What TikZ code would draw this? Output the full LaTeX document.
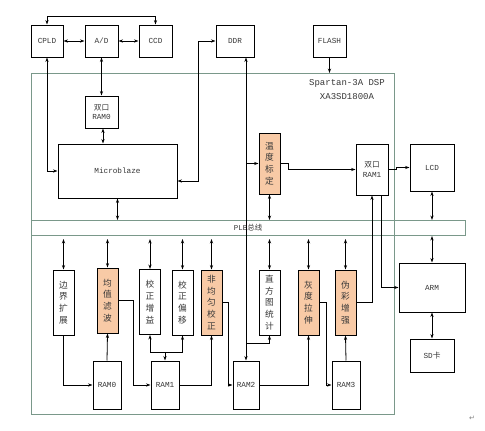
\documentclass[tikz,border=0pt]{standalone}
\usepackage{fontspec}
\setmainfont{Liberation Mono}
\newfontfamily\cjk{Noto Sans CJK SC}
\newfontfamily\dejavu{DejaVu Sans}
\usetikzlibrary{arrows.meta}
\definecolor{framegreen}{RGB}{122,152,138}
\definecolor{peach}{RGB}{248,202,166}
\definecolor{txtgray}{RGB}{55,55,55}

\begin{document}
\begin{tikzpicture}[x=1pt,y=-1pt,
	>={Stealth[length=4.5pt,width=3.2pt]},
	blk/.style={draw=black,line width=1pt,fill=white,inner sep=0pt,text=txtgray,
		font=\fontsize{7.7}{9.5}\selectfont,align=center},
	col/.style={blk,minimum width=21pt,minimum height=65pt,font=\cjk\fontsize{8.7}{11.7}\selectfont},
	ram/.style={blk,minimum width=28pt,minimum height=48pt},
	hot/.style={fill=peach},
	link/.style={line width=0.8pt}]

	\useasboundingbox (0,0) rectangle (485,431);

	% chip frame and bus
	\node[draw=framegreen,line width=1.2pt,minimum width=363pt,minimum height=341pt,
		inner sep=0pt,anchor=north west] (fpga) at (31,73) {};
	\node[align=center,text=txtgray,font=\fontsize{9}{14}\selectfont] (title) at (347,90)
		{Spartan-3A DSP\\XA3SD1800A};
	\node[draw=framegreen,line width=1pt,minimum width=434pt,minimum height=15pt,
		inner sep=0pt,anchor=north west] (bus) at (31,220) {};
	\node[text=txtgray,font=\fontsize{7.5}{9}\selectfont] (buslbl) at (248,227.5) {PLB{\cjk 总线}};

	% outside parts
	\node[blk,minimum width=32pt,minimum height=32pt] (cpld) at (47,41) {CPLD};
	\node[blk,minimum width=33pt,minimum height=32pt] (ad) at (101.5,41) {A/D};
	\node[blk,minimum width=33pt,minimum height=32pt] (ccd) at (155.5,41) {CCD};
	\node[blk,minimum width=38pt,minimum height=32pt] (ddr) at (235,41) {DDR};
	\node[blk,minimum width=33pt,minimum height=32pt] (flash) at (329.5,41) {FLASH};
	\node[blk,minimum width=44pt,minimum height=47pt] (lcd) at (432,167.5) {LCD};
	\node[blk,minimum width=66pt,minimum height=49pt] (arm) at (432,287.5) {ARM};
	\node[blk,minimum width=44pt,minimum height=33pt] (sd) at (432,355.5) {SD{\cjk 卡}};

	% upper half of the chip
	\node[blk,minimum width=33pt,minimum height=32pt] (dram0) at (101.5,112) {{\cjk 双口}\\RAM0};
	\node[blk,minimum width=119pt,minimum height=54pt] (mb) at (117.5,171) {Microblaze};
	\node[col,hot,minimum height=61pt] (wdbd) at (269.5,163.5) {温\\度\\标\\定};
	\node[blk,minimum width=32pt,minimum height=51pt] (dram1) at (372,169.5) {{\cjk 双口}\\RAM1};

	% lower half of the chip
	\node[col] (bjkz) at (63.5,302.5) {边\\界\\扩\\展};
	\node[col,hot] (jzlb) at (107.5,300.5) {均\\值\\滤\\波};
	\node[col] (jzzy) at (150,302) {校\\正\\增\\益};
	\node[col] (jzpy) at (182.5,302.5) {校\\正\\偏\\移};
	\node[col,hot] (fjy) at (211.5,302.5) {非\\均\\匀\\校\\正};
	\node[col] (zft) at (269.5,302.5) {直\\方\\图\\统\\计};
	\node[col,hot] (hdls) at (308.5,302.5) {灰\\度\\拉\\伸};
	\node[col,hot] (wczq) at (345.5,302.5) {伪\\彩\\增\\强};
	\node[ram] (ram0) at (107,385) {RAM0};
	\node[ram] (ram1) at (165,385) {RAM1};
	\node[ram,minimum width=26pt] (ram2) at (246,385) {RAM2};
	\node[ram] (ram3) at (346,385) {RAM3};

	% connectors
	\draw[link,<->] (cpld.north) -- (cpld.north |- 0,16) -| (ccd.north);
	\draw[link,<->] (cpld) -- (ad);
	\draw[link,<->] (ad) -- (ccd);
	\draw[link,<->] (cpld.south) |- (mb.west);
	\draw[link,<->] (ad.south) -- (dram0.north);
	\draw[link,<->] ([xshift=1.5pt]dram0.south) -- ([xshift=1.5pt]dram0.south |- mb.north);
	\draw[link,<->] (mb.south) -- (mb.south |- bus.north);
	\draw[link,<->] ([yshift=-10pt]mb.east) -- ++(21,0) |- (ddr.west);
	\draw[link,->] (flash.south) -- (flash.south |- fpga.north);
	\draw[link,<->] (ram2.north |- ddr.south) -- (ram2.north);
	\draw[link,->] (ram2.north |- wdbd.west) -- (wdbd.west);
	\draw[link,->] (ram2.north |- 0,343) -| (zft.south);
	\draw[link,<->] (wdbd.south) -- (wdbd.south |- bus.north);
	\draw[link,->] (wdbd.east) -- ++(8,0) |- (dram1.west);
	\draw[link,->] (dram1.east) -- ++(8,0) |- (lcd.west);
	\draw[link,<->] (lcd.south) -- (lcd.south |- bus.north);
	\draw[link,<->] (arm.north |- bus.south) -- (arm.north);
	\draw[link,<->] (arm.south) -- (sd.north);
	\draw[link,->] (wczq.east) -| (dram1.south);
	\draw[link,->] ([xshift=9pt]dram1.south) |- (arm.west);
	\foreach \n in {bjkz,jzlb,jzzy,jzpy,fjy,zft,hdls,wczq}
		\draw[link,<->] ([yshift=-3pt]\n.north |- bus.south) -- (\n.north);
	\draw[link,->] (bjkz.south) |- (ram0.west);
	\draw[link,->] (ram0.north) -- (jzlb.south);
	\draw[link,->] (jzlb.east) -- ++(15,0) |- (ram1.west);
	\coordinate (split) at (165,352);
	\draw[link,->] (split) -- (ram1.north);
	\draw[link,->] (split) -| (jzzy.south);
	\draw[link,->] (split) -| (jzpy.south);
	\draw[link,->] (ram1.east) -| (fjy.south);
	\draw[link,->] (fjy.east) -- ++(6,0) |- (ram2.west);
	\draw[link,->] (ram2.east) -| (hdls.south);
	\draw[link,->] (hdls.east) -- ++(7,0) |- (ram3.west);
	\draw[link,->] (ram3.north) -- (wczq.south);

	\node[text=gray,font=\dejavu\fontsize{7}{7}\selectfont] (ret) at (472,418) {↵};
\end{tikzpicture}
\end{document}
